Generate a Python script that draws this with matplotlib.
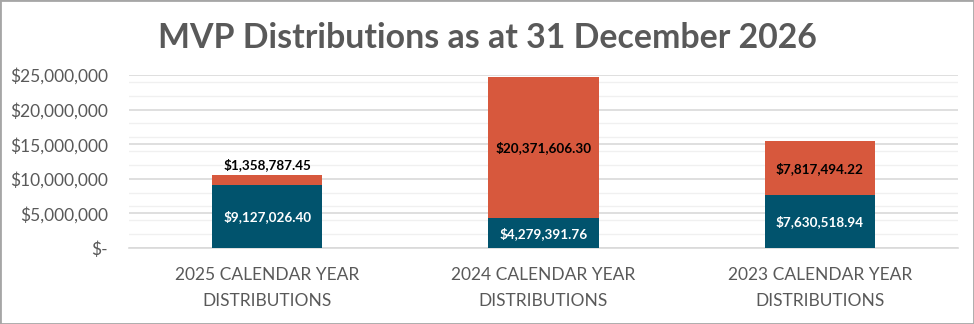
import matplotlib
matplotlib.use("Agg")
import matplotlib.pyplot as plt
from matplotlib.ticker import FuncFormatter, MultipleLocator
from matplotlib.patches import Rectangle

categories = ["2025 CALENDAR YEAR\nDISTRIBUTIONS", "2024 CALENDAR YEAR\nDISTRIBUTIONS", "2023 CALENDAR YEAR\nDISTRIBUTIONS"]
bottom_vals = [9127026.40, 4279391.76, 7630518.94]
top_vals = [1358787.45, 20371606.30, 7817494.22]
title = "MVP Distributions as at 31 December 2026"

teal = "#01536D"
orange = "#D7583D"
gray = "#595959"

plt.rcParams['font.family'] = ['Lato', 'DejaVu Sans']

fig = plt.figure(figsize=(9.74, 3.24), dpi=100)
ax = fig.add_axes([129/974, 1-248/324, (958-129)/974, (248-75)/324])

x = list(range(len(categories)))
w = 0.4
ax.bar(x, bottom_vals, width=w, color=teal, zorder=3)
ax.bar(x, top_vals, width=w, bottom=bottom_vals, color=orange, zorder=3)

def fmt(v):
    return "${:,.2f}".format(v)

for i in x:
    b = bottom_vals[i]
    t = top_vals[i]
    ax.text(i, b/2, fmt(b), ha='center', va='center', color='white',
            fontsize=9.7, fontweight='bold', zorder=4)
    if t < 2.5e6:
        ax.text(i, b + t + 0.6e6, fmt(t), ha='center', va='bottom', color='black',
                fontsize=9.7, fontweight='bold', zorder=4)
    else:
        ax.text(i, b + t/2, fmt(t), ha='center', va='center', color='black',
                fontsize=9.7, fontweight='bold', zorder=4)

ax.set_xlim(-0.5, len(categories)-0.5)
ax.set_ylim(0, 25e6)
ax.yaxis.set_major_locator(MultipleLocator(5e6))
ax.yaxis.set_minor_locator(MultipleLocator(2e6))
ax.yaxis.set_major_formatter(FuncFormatter(lambda v, p: "$-" if v == 0 else "${:,.0f}".format(v)))
ax.grid(axis='y', which='major', color='#D9D9D9', linewidth=1.2, zorder=0)
ax.grid(axis='y', which='minor', color='#F0F0F0', linewidth=1.0, zorder=0)
ax.tick_params(axis='y', which='both', length=0, labelsize=12.5, labelcolor=gray, pad=15)
ax.tick_params(axis='x', length=0, labelsize=12.5, labelcolor=gray, pad=14)
ax.set_xticks(x)
ax.set_xticklabels(categories, linespacing=1.75)
for s in ['top', 'right', 'left']:
    ax.spines[s].set_visible(False)
ax.spines['bottom'].set_color('#D9D9D9')
ax.spines['bottom'].set_linewidth(1.2)

fig.text(487/974, 1-38/324, title, ha='center', va='center', fontsize=24.4,
         fontweight='bold', color=gray)

fig.patches.append(Rectangle((0, 0), 1, 1, transform=fig.transFigure, fill=False,
                             edgecolor='#A6A6A6', linewidth=2))

fig.savefig("out.png", dpi=100)
